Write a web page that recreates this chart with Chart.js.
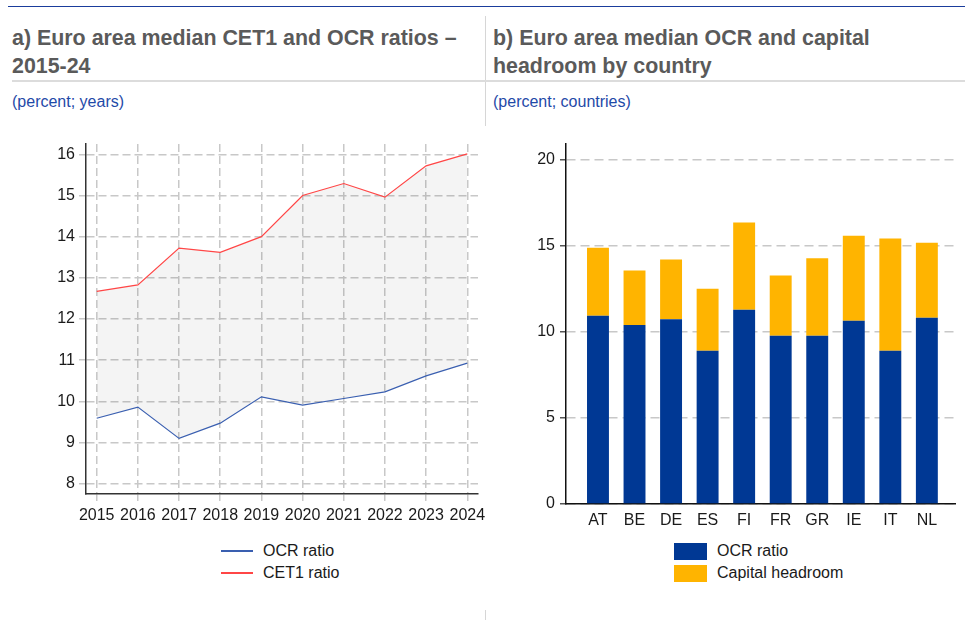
<!DOCTYPE html>
<html>
<head>
<meta charset="utf-8">
<script src="https://cdn.jsdelivr.net/npm/chart.js@4.4.1/dist/chart.umd.min.js"></script>
<style>
  body { margin: 0; background: #fff; font-family: "Liberation Sans", Arial, sans-serif; }
  #page { position: relative; width: 965px; height: 628px; overflow: hidden; }
  .abs { position: absolute; }
  .title { font-weight: bold; font-size: 21.4px; line-height: 28px; color: #5a5a5a; white-space: nowrap; }
  .sub { font-size: 16px; color: #1f4aa8; }
  .leg { font-size: 16px; color: #1a1a1a; line-height: 22px; }
</style>
</head>
<body>
<div id="page">
  <div class="abs" style="left:8px;top:6px;width:957px;height:1px;background:#1a3d9c"></div>
  <div class="abs" style="left:485px;top:16px;width:1px;height:110px;background:#d6d6d6"></div>
  <div class="abs" style="left:485px;top:610px;width:1px;height:10px;background:#d6d6d6"></div>
  <div class="abs" style="left:12px;top:80px;width:953px;height:2px;background:#dcdcdc"></div>

  <div class="abs title" style="left:12px;top:24px">a) Euro area median CET1 and OCR ratios –<br>2015-24</div>
  <div class="abs title" style="left:493px;top:24px">b) Euro area median OCR and capital<br>headroom by country</div>
  <div class="abs sub" style="left:12px;top:93px">(percent; years)</div>
  <div class="abs sub" style="left:493px;top:93px">(percent; countries)</div>

  <canvas id="chart1" class="abs" style="left:46px;top:138px" width="442" height="386"></canvas>
  <canvas id="chart2" class="abs" style="left:520px;top:138px" width="445" height="396"></canvas>

  <div class="abs" style="left:221px;top:550px;width:32px;height:2px;background:#3a5fb0"></div>
  <div class="abs leg" style="left:263px;top:540px">OCR ratio</div>
  <div class="abs" style="left:221px;top:572px;width:32px;height:2px;background:#ff4646"></div>
  <div class="abs leg" style="left:263px;top:562px">CET1 ratio</div>

  <div class="abs" style="left:674px;top:543px;width:33px;height:17px;background:#003894"></div>
  <div class="abs leg" style="left:717px;top:540px">OCR ratio</div>
  <div class="abs" style="left:674px;top:565px;width:33px;height:17px;background:#ffb400"></div>
  <div class="abs leg" style="left:717px;top:562px">Capital headroom</div>
</div>
<script>
// panel a
const years = [2015, 2016, 2017, 2018, 2019, 2020, 2021, 2022, 2023, 2024];
const ocrRatio = [9.59, 9.86, 9.10, 9.47, 10.11, 9.91, 10.07, 10.23, 10.62, 10.93];
const cet1Ratio = [12.67, 12.83, 13.72, 13.62, 14.00, 15.00, 15.29, 14.96, 15.72, 16.01];
const yTicksA = [8, 9, 10, 11, 12, 13, 14, 15, 16];

// panel b
const countries = ['AT', 'BE', 'DE', 'ES', 'FI', 'FR', 'GR', 'IE', 'IT', 'NL'];
const ocrByCountry = [10.93, 10.39, 10.72, 8.90, 11.28, 9.77, 9.77, 10.64, 8.90, 10.81];
const headroom = [3.95, 3.16, 3.47, 3.60, 5.06, 3.49, 4.49, 4.94, 6.51, 4.36];
const yTicksB = [0, 5, 10, 15, 20];

const gridGrey = '#c8c8c8';
const tickFont = { family: '"Liberation Sans", Arial, sans-serif', size: 16 };

// keep the plot area where the layout padding puts it
function fixY(width) {
    return s => { s.width = width; s.paddingTop = 0; s.paddingBottom = 0; };
}
function fixX(s) {
    s.height = 30; s.paddingLeft = 0; s.paddingRight = 0;
}

new Chart(document.getElementById('chart1'), {
    type: 'line',
    data: {
        datasets: [{
            label: 'OCR ratio',
            data: years.map((y, i) => ({ x: y, y: ocrRatio[i] })),
            borderColor: '#3a5fb0',
            borderWidth: 1.2,
            pointRadius: 0,
            fill: false
        }, {
            label: 'CET1 ratio',
            data: years.map((y, i) => ({ x: y, y: cet1Ratio[i] })),
            borderColor: '#ff4646',
            borderWidth: 1.2,
            pointRadius: 0,
            backgroundColor: 'rgba(0,0,0,0.045)',
            fill: '-1'
        }]
    },
    options: {
        responsive: false,
        animation: false,
        layout: { padding: { top: 6, right: 10, left: 0, bottom: 0 } },
        plugins: { legend: { display: false }, tooltip: { enabled: false } },
        scales: {
            x: {
                type: 'linear',
                min: 2014.74,
                max: 2024.26,
                afterBuildTicks: s => { s.ticks = years.map(v => ({ value: v })); },
                afterFit: fixX,
                ticks: { color: '#1a1a1a', font: tickFont, padding: 5, maxRotation: 0, autoSkip: false,
                    callback: v => String(v) },
                grid: { color: gridGrey, lineWidth: 1.5, tickLength: 7, tickColor: gridGrey, tickBorderDash: [] },
                border: { color: '#333', width: 1.5, dash: [8, 4] }
            },
            y: {
                min: 7.75,
                max: 16.25,
                afterBuildTicks: s => { s.ticks = yTicksA.map(v => ({ value: v })); },
                afterFit: fixY(40),
                ticks: { color: '#1a1a1a', font: tickFont, padding: 4 },
                grid: { color: gridGrey, lineWidth: 1.5, tickLength: 7, tickColor: gridGrey, tickBorderDash: [] },
                border: { color: '#333', width: 1.5, dash: [8, 4] }
            }
        }
    }
});

new Chart(document.getElementById('chart2'), {
    type: 'bar',
    data: {
        datasets: [{
            label: 'OCR ratio',
            data: ocrByCountry.map((v, i) => ({ x: i, y: v })),
            backgroundColor: '#003894',
            barPercentage: 0.6,
            categoryPercentage: 1
        }, {
            label: 'Capital headroom',
            data: headroom.map((v, i) => ({ x: i, y: v })),
            backgroundColor: '#ffb400',
            barPercentage: 0.6,
            categoryPercentage: 1
        }]
    },
    options: {
        responsive: false,
        animation: false,
        layout: { padding: { top: 6, right: 10, left: 0, bottom: 0 } },
        plugins: { legend: { display: false }, tooltip: { enabled: false } },
        scales: {
            x: {
                type: 'linear',
                stacked: true,
                offset: false,
                min: -0.875,
                max: 9.77,
                afterBuildTicks: s => { s.ticks = countries.map((c, i) => ({ value: i })); },
                afterFit: fixX,
                ticks: { color: '#1a1a1a', font: tickFont, padding: 7, maxRotation: 0, autoSkip: false,
                    callback: v => countries[v] },
                grid: { display: false, drawTicks: false, offset: false },
                border: { color: '#111', width: 1.5 }
            },
            y: {
                stacked: true,
                min: 0,
                max: 20.9,
                afterBuildTicks: s => { s.ticks = yTicksB.map(v => ({ value: v })); },
                afterFit: fixY(46),
                ticks: { color: '#1a1a1a', font: tickFont, padding: 5 },
                grid: { color: gridGrey, lineWidth: 1.5, tickLength: 6, tickColor: '#555', tickBorderDash: [] },
                border: { color: '#111', width: 1.5, dash: [9, 5] }
            }
        }
    }
});
</script>
</body>
</html>
